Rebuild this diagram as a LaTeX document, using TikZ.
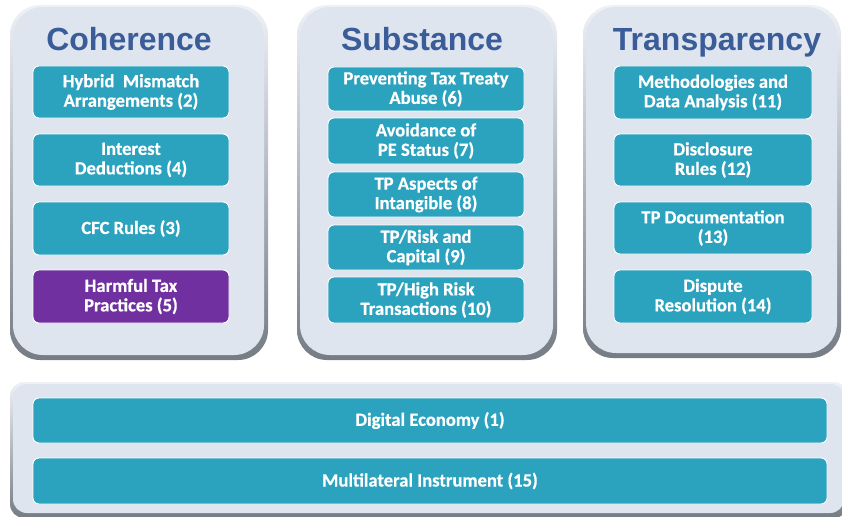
\documentclass[tikz,border=0pt]{standalone}
\usepackage{fontspec}
\setmainfont{Carlito}[BoldFeatures={FakeBold=0.6}]
\newfontfamily\headfont{Liberation Sans}
\definecolor{panelfill}{HTML}{DEE5EF}
\definecolor{rimtop}{HTML}{EEF2F7}
\definecolor{rimbot}{HTML}{767C84}
\definecolor{teal}{HTML}{2BA2BE}
\definecolor{plum}{HTML}{7030A0}
\definecolor{headblue}{HTML}{3A5C99}
\begin{document}
\begin{tikzpicture}[x=1pt,y=-1pt,
  rim/.style={rounded corners=#1, top color=rimtop, bottom color=rimbot, draw=none},
  panel/.style={rounded corners=#1, fill=panelfill, draw=none},
  item/.style={rounded corners=6pt, fill=teal, draw=white, line width=0.9pt},
  label/.style={text=white, font=\bfseries\fontsize{18.6}{19.5}\selectfont, align=center},
  head/.style={text=headblue, anchor=base, font=\headfont\bfseries\fontsize{32}{32}\selectfont}]
\useasboundingbox (0,0) rectangle (842,516);

% bevelled panels
\newcommand{\bevelpanel}[5]{%
  \path[rim=#5] (#1,#2) rectangle (#3,#4);
  \path[panel=#5] (#1+3,#2+2) rectangle (#3-4,#4-5);}
\bevelpanel{10}{5}{268}{360}{30pt}
\bevelpanel{297}{5}{557}{360}{30pt}
\bevelpanel{583}{5}{841}{358}{30pt}
\bevelpanel{10}{382}{848}{518}{14pt}

% column headings
\node[head] (hcoh) at (129,51) {Coherence};
\node[head] (hsub) at (422,51) {Substance};
\node[head] (htra) at (717,51) {Transparency};

% box helper: name, x1, y1, x2, y2, fill, text
\newcommand{\itembox}[7]{%
  \path[item, fill=#6] (#2,#3) rectangle (#4,#5);
  \node[label] (#1) at ({(#2+#4)/2},{(#3+#5)/2}) {#7};}

% Coherence
\itembox{c2}{33}{66}{229}{118}{teal}{Hybrid\ \ Mismatch\\Arrangements (2)}
\itembox{c4}{33}{134}{229}{186}{teal}{Interest\\Deductions (4)}
\itembox{c3}{33}{202}{229}{255}{teal}{CFC Rules (3)}
\itembox{c5}{33}{270}{229}{323}{plum}{Harmful Tax\\Practices (5)}

% Substance
\itembox{s6}{328}{67}{524}{111}{teal}{Preventing Tax Treaty\\Abuse (6)}
\itembox{s7}{328}{118}{524}{164}{teal}{Avoidance of\\PE Status (7)}
\itembox{s8}{328}{172}{524}{217}{teal}{TP Aspects of\\Intangible (8)}
\itembox{s9}{328}{225}{524}{270}{teal}{TP/Risk and\\Capital (9)}
\itembox{s10}{328}{277}{524}{323}{teal}{TP/High Risk\\Transactions (10)}

% Transparency
\itembox{t11}{614}{66}{812}{119}{teal}{Methodologies and\\Data Analysis (11)}
\itembox{t12}{614}{134}{812}{186}{teal}{Disclosure\\Rules (12)}
\itembox{t13}{614}{202}{812}{254}{teal}{TP Documentation\\(13)}
\itembox{t14}{614}{270}{812}{323}{teal}{Dispute\\Resolution (14)}

% cross-cutting actions
\itembox{a1}{33}{398}{827}{443}{teal}{Digital Economy (1)}
\itembox{a15}{33}{458}{827}{504}{teal}{Multilateral Instrument (15)}
\end{tikzpicture}
\end{document}
